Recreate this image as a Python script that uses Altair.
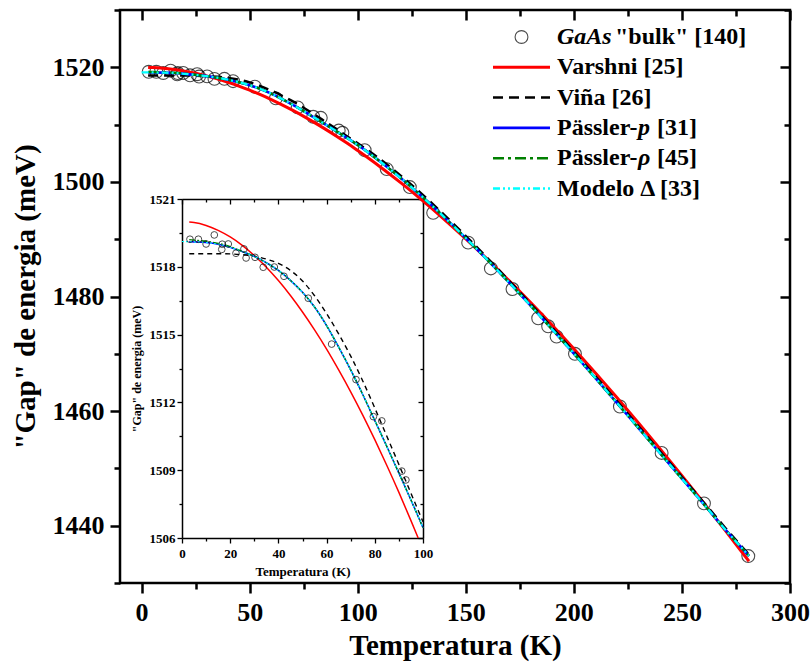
import altair as alt
import pandas as pd

FONT = "Liberation Serif"

# ---------------------------------------------------------------
# Measured gap energy of bulk GaAs [140]
# ---------------------------------------------------------------
sample_T = [3.3, 6.8, 10.0, 13.4, 16.5, 16.7, 19.2, 22.4, 25.7, 26.6,
            30.3, 33.7, 38.3, 42.3, 52.4, 62.1, 72.2, 79.4, 82.9, 91.2,
            92.9, 103.2, 113.4, 124.1, 134.9, 151.1, 161.6, 171.6, 183.5, 188.1,
            192.0, 200.5, 221.3, 240.6, 260.2, 280.7]
sample_E = [1519.22, 1519.22, 1519.01, 1519.41, 1518.77, 1519.00, 1519.01, 1518.60, 1518.79, 1518.39,
            1518.42, 1517.98, 1517.99, 1517.58, 1516.61, 1514.58, 1513.01, 1511.37, 1511.18, 1508.96,
            1508.57, 1505.54, 1502.23, 1499.10, 1494.60, 1489.40, 1484.90, 1481.30, 1476.20, 1474.80,
            1473.00, 1470.00, 1460.80, 1452.70, 1443.90, 1434.70]

# ---------------------------------------------------------------
# Model curves on a common temperature grid (K) -> gap (meV)
# ---------------------------------------------------------------
grid_T = [3, 5, 10, 15, 20, 25, 30, 35, 40, 45,
          50, 55, 60, 65, 70, 75, 80, 85, 90, 95,
          98, 100,
          110, 120, 130, 140, 150, 160, 170, 180, 190, 200,
          210, 220, 230, 240, 250, 260, 270, 281]

varshni_E = [1519.98, 1519.96, 1519.83, 1519.61, 1519.32, 1518.95, 1518.50, 1517.98, 1517.39, 1516.73,
             1516.00, 1515.21, 1514.36, 1513.44, 1512.47, 1511.44, 1510.35, 1509.21, 1508.02, 1506.77,
             1506.00, 1505.47,
             1502.74, 1499.82, 1496.73, 1493.47, 1490.05, 1486.48, 1482.78, 1478.93, 1474.96, 1470.86,
             1466.65, 1462.33, 1457.89, 1453.36, 1448.72, 1444.00, 1439.18, 1433.80]

vina_E = [1518.58, 1518.58, 1518.58, 1518.58, 1518.57, 1518.54, 1518.47, 1518.34, 1518.15, 1517.84,
          1517.37, 1516.72, 1515.93, 1515.03, 1514.05, 1512.95, 1511.75, 1510.50, 1509.25, 1507.98,
          1507.22, 1506.72,
          1504.05, 1501.05, 1497.75, 1494.25, 1490.55, 1486.70, 1482.75, 1478.70, 1474.55, 1470.35,
          1466.05, 1461.70, 1457.30, 1452.90, 1448.50, 1444.10, 1439.65, 1434.95]

passler_p_E = [1519.11, 1519.10, 1519.07, 1519.00, 1518.86, 1518.67, 1518.46, 1518.18, 1517.84, 1517.40,
               1516.87, 1516.22, 1515.40, 1514.45, 1513.44, 1512.35, 1511.20, 1510.05, 1508.87, 1507.68,
               1506.95, 1506.45,
               1503.65, 1500.65, 1497.35, 1493.85, 1490.20, 1486.40, 1482.45, 1478.40, 1474.25, 1470.05,
               1465.75, 1461.40, 1457.00, 1452.60, 1448.20, 1443.80, 1439.35, 1434.70]

passler_rho_E = [1519.20, 1519.18, 1519.13, 1519.04, 1518.89, 1518.68, 1518.46, 1518.18, 1517.84, 1517.40,
                 1516.87, 1516.22, 1515.40, 1514.45, 1513.44, 1512.35, 1511.20, 1510.05, 1508.87, 1507.68,
                 1506.95, 1506.45,
                 1503.65, 1500.65, 1497.35, 1493.85, 1490.20, 1486.40, 1482.45, 1478.40, 1474.25, 1470.05,
                 1465.75, 1461.40, 1457.00, 1452.60, 1448.20, 1443.80, 1439.35, 1434.75]

delta_T = [0] + grid_T
delta_E = [1519.12, 1519.11, 1519.10, 1519.07, 1519.00, 1518.86, 1518.67, 1518.46, 1518.18, 1517.84, 1517.40,
           1516.87, 1516.22, 1515.40, 1514.45, 1513.44, 1512.35, 1511.20, 1510.05, 1508.87, 1507.68,
           1506.95, 1506.45,
           1503.65, 1500.65, 1497.35, 1493.85, 1490.20, 1486.40, 1482.45, 1478.40, 1474.25, 1470.05,
           1465.75, 1461.40, 1457.00, 1452.60, 1448.20, 1443.80, 1439.35, 1434.75]

# ---------------------------------------------------------------
# Axis ticks
# ---------------------------------------------------------------
main_x_ticks = [0, 50, 100, 150, 200, 250, 300]
main_x_minor = [25, 75, 125, 175, 225, 275]
main_y_ticks = [1440, 1460, 1480, 1500, 1520]
main_y_minor = [1430, 1450, 1470, 1490, 1510, 1530]
inset_x_ticks = [0, 20, 40, 60, 80, 100]
inset_x_minor = [10, 30, 50, 70, 90]
inset_y_ticks = [1506, 1509, 1512, 1515, 1518, 1521]
inset_y_minor = [1507.5, 1510.5, 1513.5, 1516.5, 1519.5]

x_title = "Temperatura (K)"
y_title = '"Gap" de energia (meV)'

# Legend rows: list of text pieces (text, italic?)
legend_rows = [
    [("GaAs", True), ('"bulk" [140]', False)],
    [("Varshni [25]", False)],
    [("Viña [26]", False)],
    [("Pässler-", False), ("p", True), ("[31]", False)],
    [("Pässler-", False), ("ρ", True), ("[45]", False)],
    [("Modelo Δ [33]", False)],
]
# horizontal start of each piece inside a legend row (px from text start)
legend_piece_dx = [[0, 58], [0], [0], [0, 81, 100], [0, 81, 100], [0]]

# ---------------------------------------------------------------
# Geometry of the plotting area and of the inset (pixels)
# ---------------------------------------------------------------
W, H = 670, 573
IN_L, IN_R = 62, 303
IN_T, IN_B = 189, 528

main_x = alt.Scale(domain=[-10, 300], nice=False, zero=False)
main_y = alt.Scale(domain=[1430, 1530], nice=False, zero=False)
inset_x = alt.Scale(domain=[0, 100], range=[IN_L, IN_R], nice=False, zero=False)
inset_y = alt.Scale(domain=[1506, 1521], range=[IN_B, IN_T], nice=False, zero=False)

# (name, T, E, color, main width, main dash, inset width, inset dash)
models = [
    ("Varshni", grid_T, varshni_E, "#ff0000", 3.0, None, 1.5, None),
    ("Viña", grid_T, vina_E, "#000000", 2.5, [10, 6], 1.4, [5, 4]),
    ("Pässler-p", grid_T, passler_p_E, "#0000ff", 2.6, None, 1.5, None),
    ("Pässler-rho", grid_T, passler_rho_E, "#008000", 2.5, [11, 4, 3, 4], 1.3, [6, 2, 2, 2]),
    ("Delta", delta_T, delta_E, "#00ffff", 2.3, [7, 3, 2, 3, 2, 3], 1.2, [2, 2]),
]


def tick_axis(orient, values, size, width, offset=0, domain=False, domain_width=1.0):
    return dict(orient=orient, values=values, tickSize=size, tickWidth=width,
                tickColor="black", offset=offset, domain=domain, domainColor="black",
                domainWidth=domain_width, labels=False, grid=False, title=None)


def labelled(base, font_size, pad, title, title_size, title_pad):
    d = dict(base)
    d.update(labels=True, format="d", labelFont=FONT, labelFontSize=font_size,
             labelFontWeight="bold", labelColor="black", labelPadding=pad, labelOverlap=False,
             labelFlush=False,
             title=title, titleFont=FONT, titleFontSize=title_size, titleFontWeight="bold",
             titleColor="black", titlePadding=title_pad)
    return d


def axis_layer(xs, ys, xdom, ydom, xaxis, yaxis):
    frame = pd.DataFrame({"T": xdom, "E": ydom})
    return alt.Chart(frame).mark_point(opacity=0).encode(
        x=alt.X("T:Q", scale=xs, axis=alt.Axis(**xaxis)),
        y=alt.Y("E:Q", scale=ys, axis=alt.Axis(**yaxis)),
    )


layers = []

# ---- main axes (frame drawn by the view stroke) ----
layers.append(axis_layer(
    main_x, main_y, [-10, 300], [1430, 1530],
    labelled(tick_axis("bottom", main_x_ticks, 10, 2.5), 26, 6, x_title, 29, 6),
    labelled(tick_axis("left", main_y_ticks, 10, 2.5), 26, 6, y_title, 29, 12),
))
layers.append(axis_layer(
    main_x, main_y, [-10, 300], [1430, 1530],
    tick_axis("bottom", main_x_minor, 6, 2.5),
    tick_axis("left", main_y_minor, 6, 2.5),
))
layers.append(axis_layer(
    main_x, main_y, [-10, 300], [1430, 1530],
    tick_axis("bottom", main_x_ticks, 10, 2.5, offset=-H),
    tick_axis("left", main_y_ticks, 10, 2.5, offset=-W),
))
layers.append(axis_layer(
    main_x, main_y, [-10, 300], [1430, 1530],
    tick_axis("bottom", main_x_minor, 6, 2.5, offset=-H),
    tick_axis("left", main_y_minor, 6, 2.5, offset=-W),
))

# ---- inset axes, box drawn by the domain lines ----
layers.append(axis_layer(
    inset_x, inset_y, [0, 100], [1506, 1521],
    labelled(tick_axis("bottom", inset_x_ticks, 5, 1.3, offset=-(H - IN_B), domain=True, domain_width=1.5),
             13, 4, x_title, 13, 5),
    labelled(tick_axis("left", inset_y_ticks, 5, 1.3, offset=-IN_L, domain=True, domain_width=1.5),
             13, 2, y_title, 12, 6),
))
layers.append(axis_layer(
    inset_x, inset_y, [0, 100], [1506, 1521],
    tick_axis("bottom", inset_x_minor, 3, 1.3, offset=-(H - IN_B)),
    tick_axis("left", inset_y_minor, 3, 1.3, offset=-IN_L),
))
layers.append(axis_layer(
    inset_x, inset_y, [0, 100], [1506, 1521],
    tick_axis("bottom", inset_x_ticks, 5, 1.3, offset=-(H - IN_T), domain=True, domain_width=1.5),
    tick_axis("left", inset_y_ticks, 5, 1.3, offset=-IN_R, domain=True, domain_width=1.5),
))
layers.append(axis_layer(
    inset_x, inset_y, [0, 100], [1506, 1521],
    tick_axis("bottom", inset_x_minor, 3, 1.3, offset=-(H - IN_T)),
    tick_axis("left", inset_y_minor, 3, 1.3, offset=-IN_R),
))

samples = pd.DataFrame({"T": sample_T, "E": sample_E})

# ---- main panel ----
layers.append(alt.Chart(samples).mark_point(
    shape="circle", filled=False, size=165, color="black", strokeWidth=1.1
).encode(x=alt.X("T:Q", scale=main_x, axis=None), y=alt.Y("E:Q", scale=main_y, axis=None)))

for name, ts, es, color, w, dash, wi, dash_i in models:
    df = pd.DataFrame({"T": ts, "E": es})
    kw = dict(color=color, strokeWidth=w, interpolate="monotone")
    if dash:
        kw["strokeDash"] = dash
    layers.append(alt.Chart(df).mark_line(**kw).encode(
        x=alt.X("T:Q", scale=main_x, axis=None), y=alt.Y("E:Q", scale=main_y, axis=None)))

# ---- inset panel (low temperature zoom) ----
for name, ts, es, color, w, dash, wi, dash_i in models:
    df = pd.DataFrame({"T": ts, "E": es})
    kw = dict(color=color, strokeWidth=wi, interpolate="monotone")
    if dash_i:
        kw["strokeDash"] = dash_i
    layers.append(alt.Chart(df).mark_line(**kw).transform_filter(
        "datum.T <= 100 && datum.E >= 1506"
    ).encode(x=alt.X("T:Q", scale=inset_x, axis=None), y=alt.Y("E:Q", scale=inset_y, axis=None)))

layers.append(alt.Chart(samples).mark_point(
    shape="circle", filled=False, size=45, color="black", strokeWidth=1.0
).transform_filter("datum.T <= 100").encode(
    x=alt.X("T:Q", scale=inset_x, axis=None), y=alt.Y("E:Q", scale=inset_y, axis=None)))

# ---- legend (top right, inside the frame) ----
LEG_TEXT_X = 437
LEG_SYM_X0, LEG_SYM_X1 = 373, 430
LEG_Y0, LEG_DY = 27, 30.3

legend_tbl = pd.DataFrame({"row": [0]})
layers.append(alt.Chart(legend_tbl).mark_point(
    shape="circle", filled=False, size=165, color="black", strokeWidth=1.1
).encode(x=alt.value((LEG_SYM_X0 + LEG_SYM_X1) / 2), y=alt.value(LEG_Y0)))

for i, (name, ts, es, color, w, dash, wi, dash_i) in enumerate(models):
    kw = dict(color=color, strokeWidth=w)
    if dash:
        kw["strokeDash"] = dash
    layers.append(alt.Chart(legend_tbl).mark_rule(**kw).encode(
        x=alt.value(LEG_SYM_X0), x2=alt.value(LEG_SYM_X1), y=alt.value(LEG_Y0 + LEG_DY * (i + 1))))

for r, pieces in enumerate(legend_rows):
    for (txt, italic), dx in zip(pieces, legend_piece_dx[r]):
        layers.append(alt.Chart(pd.DataFrame({"label": [txt]})).mark_text(
            align="left", baseline="middle", font=FONT, fontSize=24, fontWeight="bold",
            fontStyle="italic" if italic else "normal", color="black"
        ).encode(x=alt.value(LEG_TEXT_X + dx), y=alt.value(LEG_Y0 + LEG_DY * r), text="label:N"))

chart = alt.layer(*layers).resolve_scale(x="independent", y="independent").properties(
    width=W, height=H,
    autosize=alt.AutoSizeParams(type="none"),
    padding={"left": 120, "top": 10, "right": 21, "bottom": 83},
    background="white",
).configure_view(stroke="black", strokeWidth=2.5)

chart.save("out.html", embed_options={"renderer": "svg", "actions": False})
